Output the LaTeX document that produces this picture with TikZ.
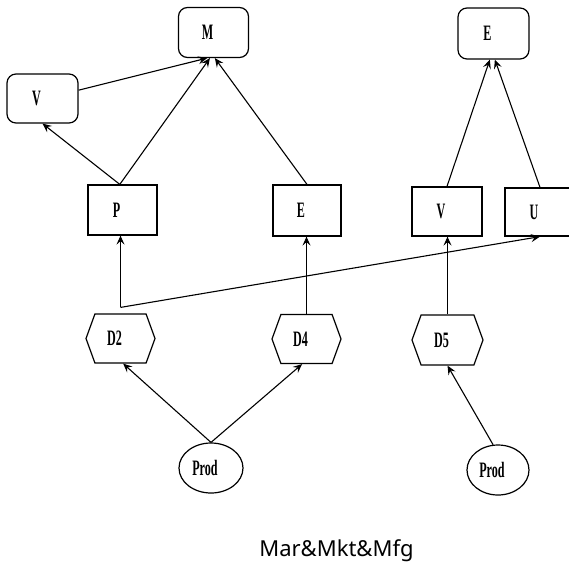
\documentclass[tikz,border=0pt]{standalone}
\usepackage{fontspec}
\setmainfont{Liberation Serif}
\newfontfamily\lblfont[FakeStretch=0.55]{Liberation Serif}
\newfontfamily\capfont{Noto Sans}
\usetikzlibrary{arrows.meta,shapes.symbols,shapes.geometric,calc}
\newcommand\lbl[1]{\hspace*{-12pt}#1}
\begin{document}
\begin{tikzpicture}[x=1pt,y=-1pt,
  base/.style={draw, line width=1.2pt, inner sep=0pt, font=\lblfont\bfseries\fontsize{22}{22}\selectfont},
  rbox/.style={base, rounded corners=9pt, minimum width=70pt, minimum height=50pt},
  sbox/.style={base, minimum width=69pt, minimum height=50pt},
  hexa/.style={base, shape=signal, signal to=west and east, signal pointer angle=140, minimum width=69pt, minimum height=49pt},
  oval/.style={base, ellipse, minimum width=63pt, minimum height=50pt},
  link/.style={line width=1.1pt, -{Stealth[length=9pt,width=8pt,inset=3.5pt]}}
]
\useasboundingbox (0,0) rectangle (569,565);
\node[rbox] (M) at (213.5,32.5) {\lbl{M}};
\node[rbox, minimum width=71pt, minimum height=49pt] (Vt) at (42.5,98.5) {\lbl{V}};
\node[rbox, minimum width=71pt, minimum height=51pt] (Et) at (493.5,33.5) {\lbl{E}};
\node[sbox] (P) at (122.5,210) {\lbl{P}};
\node[sbox, minimum width=68pt, minimum height=51pt] (Em) at (307,210.5) {\lbl{E}};
\node[sbox, minimum width=70pt, minimum height=49pt] (Vr) at (447,211.5) {\lbl{V}};
\node[sbox, minimum width=70pt, minimum height=48pt] (U) at (540,212) {\lbl{U}};
\node[hexa] (D2) at (120.5,338.5) {\lbl{D2}};
\node[hexa] (D4) at (306.5,339) {\lbl{D4}};
\node[hexa, minimum width=71pt, minimum height=50pt] (D5) at (447.5,340) {\lbl{D5}};
\node[oval, minimum width=64pt] (Pr1) at (211,468) {\lbl{Prod}};
\node[oval, minimum width=62pt] (Pr2) at (498,470) {\lbl{Prod}};
\node[font=\capfont\fontsize{22}{22}\selectfont, anchor=base] (cap) at (336.5,556) {Mar\&Mkt\&Mfg};

\coordinate (d2o) at ($(D2.north)+(0,-6)$);
\draw[link] (d2o) -- (d2o |- P.south);
\draw[link] (d2o) -- (U.south);
\draw[link] (D4.north) -- (D4.north |- Em.south);
\draw[link] (D5.north) -- (D5.north |- Vr.south);
\draw[link] (Vt.13) -- (M.-104);
\draw[link] (P.96) -- (M.-98);
\draw[link] (P.96) -- (Vt.south);
\draw[link] (Em.north) -- (M.-87);
\draw[link] (Vr.north) -- (Et.-98);
\draw[link] (U.north) -- (Et.-87);
\draw[link] (Pr1.north) -- (D2.-84);
\draw[link] (Pr1.north) -- (D4.-100);
\draw[link] (Pr2.101) -- (D5.south);
\end{tikzpicture}
\end{document}
